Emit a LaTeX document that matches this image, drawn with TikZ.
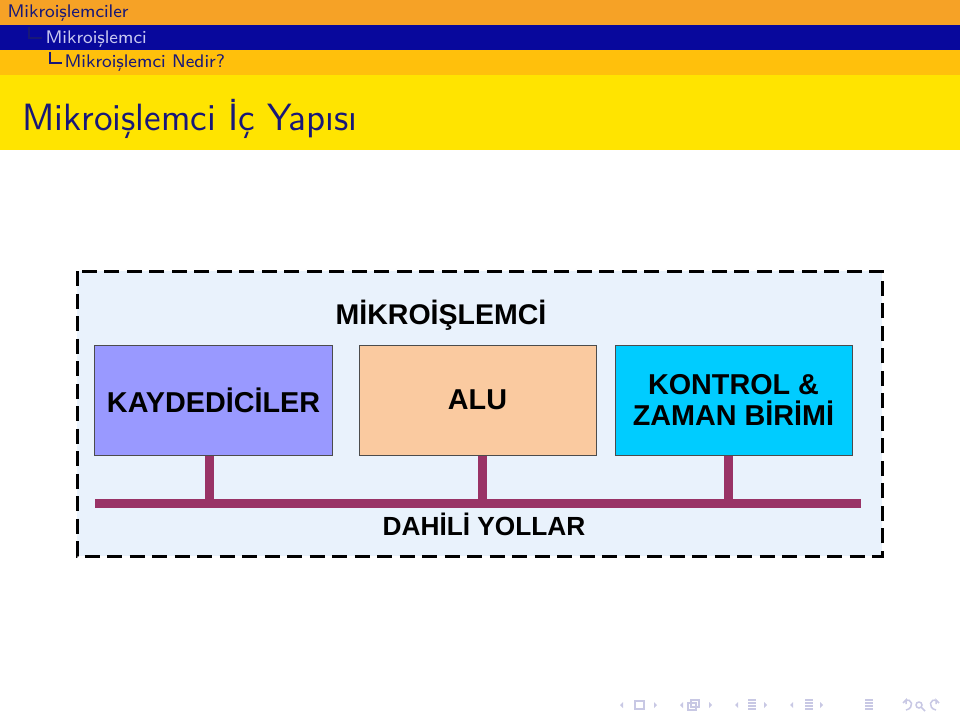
\documentclass[tikz,border=0pt]{standalone}
\usepackage{fontspec}
\newfontfamily\arialfont{Liberation Sans}
\usetikzlibrary{positioning}
\definecolor{headorange}{RGB}{246, 162, 38}
\definecolor{headblue}{RGB}{8, 8, 156}
\definecolor{subyellow}{RGB}{255, 192, 12}
\definecolor{titleyellow}{RGB}{255, 228, 0}
\definecolor{navytext}{RGB}{24, 24, 120}
\definecolor{lighttext}{RGB}{200, 200, 240}
\definecolor{bgblue}{RGB}{233, 242, 252}
\definecolor{regcol}{RGB}{153, 153, 255}
\definecolor{alucol}{RGB}{250, 202, 160}
\definecolor{ctlcol}{RGB}{0, 204, 255}
\definecolor{buscol}{RGB}{153, 51, 102}
\definecolor{navcol}{RGB}{200, 200, 228}

\begin{document}
\begin{tikzpicture}[
            x=0.4pt, y=-0.4pt,
            headtext/.style={anchor=base west, inner sep=0pt, font=\sffamily\fontsize{7.3}{8}\selectfont},
            unitbox/.style={
                rectangle,
                draw=black!70,
                fill=#1,
                minimum width=94.8pt,
                minimum height=44pt,
                align=center,
                font=\arialfont\bfseries\fontsize{11.5}{12.5}\selectfont
            },
            label/.style={font=\arialfont\bfseries\fontsize{#1}{12}\selectfont},
            bus/.style={draw=buscol, line width=3.6pt},
            navsym/.style={draw=navcol, line width=0.6pt}
        ]
            \useasboundingbox (0,0) rectangle (960,720);

            % Headline bars
            \fill[headorange] (0,0) rectangle (960,25);
            \fill[headblue] (0,25) rectangle (960,50);
            \fill[subyellow] (0,50) rectangle (960,75);
            \fill[titleyellow] (0,75) rectangle (960,150);

            \node[headtext, text=navytext] (sec) at (7,18) {Mikroişlemciler};
            \node[headtext, text=lighttext] (subsec) at (45,43) {Mikroişlemci};
            \node[headtext, text=navytext] (subsubsec) at (64,68) {Mikroişlemci Nedir?};
            \draw[navytext, line width=0.6pt] (29,27) -- (29,38) -- (42,38);
            \draw[navytext, line width=0.6pt] (50,52) -- (50,63) -- (62,63);

            % Frame title
            \node[anchor=base west, inner sep=0pt, text=navytext,
                  font=\sffamily\fontsize{15.2}{17}\selectfont] (title) at (22,130) {Mikroişlemci İç Yapısı};

            % Diagram
            \draw[fill=bgblue, line width=1.2pt, dash pattern=on 6pt off 3pt] (77,271) rectangle (882,556);
            \node[label=11.4] (cpu) at (441,315) {MİKROİŞLEMCİ};

            \node[unitbox=regcol] (reg) at (213.5,400) {KAYDEDİCİLER};
            \node[unitbox=alucol] (alu) at (477.5,400) {ALU};
            \node[unitbox=ctlcol] (ctl) at (733.5,400) {KONTROL \&\\ZAMAN BİRİMİ};

            \coordinate (busL) at (95,503);
            \coordinate (busR) at (861,503);
            \draw[bus] (busL) -- (busR);
            \draw[bus] ([xshift=-1.6pt]reg.south) -- ([xshift=-1.6pt]reg.south |- busL);
            \draw[bus] ([xshift=1.8pt]alu.south) -- ([xshift=1.8pt]alu.south |- busL);
            \draw[bus] ([xshift=-2.2pt]ctl.south) -- ([xshift=-2.2pt]ctl.south |- busL);

            \node[label=10.5] (yollar) at (484,524) {DAHİLİ YOLLAR};

            % Navigation symbols
            \foreach \x in {620, 680, 735, 790} {
                \fill[navcol] (\x+3,702) -- (\x,705) -- (\x+3,708) -- cycle;
            }
            \foreach \x in {657, 712, 767, 823} {
                \fill[navcol] (\x-3,702) -- (\x,705) -- (\x-3,708) -- cycle;
            }
            \draw[navsym] (635,701) rectangle (644,709);
            \draw[navsym] (688,703) rectangle (696,710);
            \draw[navsym] (691,700) rectangle (699,707);
            \foreach \x in {748, 805, 865} {
                \foreach \y in {700, 703, 706, 709} {
                    \draw[navsym] (\x,\y) -- (\x+8,\y);
                }
            }
            \draw[navsym] (903,703) -- (906,700) -- (906,704);
            \draw[navsym] (905,701) .. controls (912,697) and (915,708) .. (906,710);
            \draw[navsym] (919,705) circle[radius=3];
            \draw[navsym] (921,707) -- (925,711);
            \draw[navsym] (939,703) -- (936,700) -- (936,704);
            \draw[navsym] (937,701) .. controls (930,697) and (927,708) .. (936,710);
        \end{tikzpicture}
\end{document}
